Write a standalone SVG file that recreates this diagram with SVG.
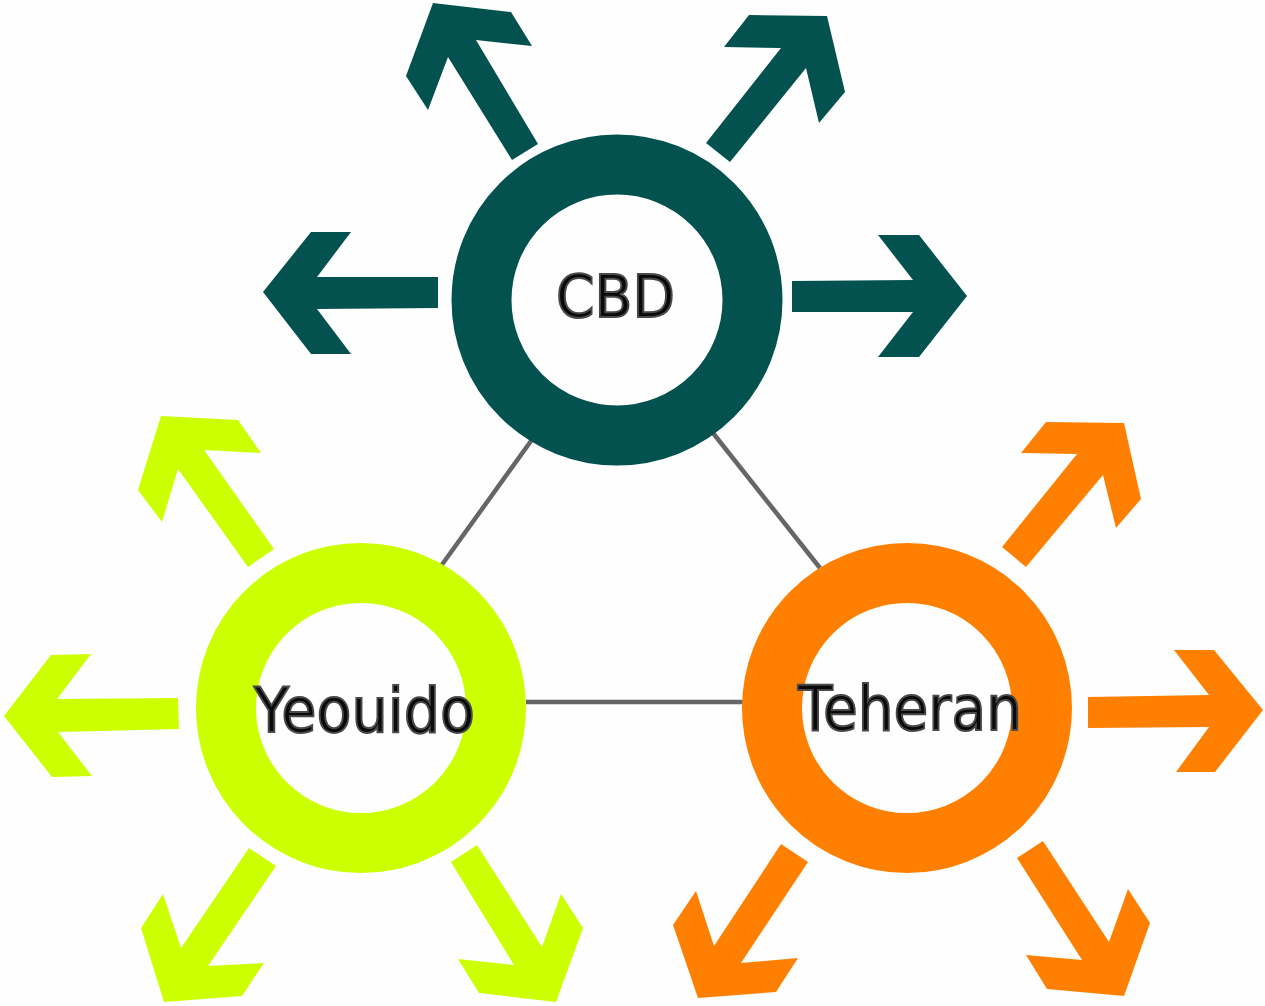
<svg xmlns="http://www.w3.org/2000/svg" width="1265" height="1006" viewBox="0 0 1265 1006">
<style>
.lbl{font-family:"DejaVu Sans","Verdana",sans-serif;fill:#0a0a0a;stroke:#4a4a4a;stroke-width:2}
.ring{fill:none;stroke-width:60}
.cbd{fill:#03524F}
.yeo{fill:#CCFF00}
.teh{fill:#FF8000}
.conn{stroke:#666;stroke-width:4.5;fill:none}
</style>
<rect width="1265" height="1006" fill="#fefefe"/>
<g id="connectors">
<line class="conn" x1="531" y1="441" x2="441" y2="566"/>
<line class="conn" x1="713" y1="433" x2="820" y2="568"/>
<line class="conn" x1="526" y1="702" x2="743" y2="702"/>
</g>
<g id="cbd">
<circle class="ring" cx="617" cy="300" r="135.5" stroke="#03524F"/>
<polygon class="cbd" points="433,3 511,12 532,46 476,40 538,144 512,160 448,57 428,110 406,76"/>
<polygon class="cbd" points="749,15 827,16 845,92 819,123 806,68 730,162 706,143 781,48 724,47"/>
<polygon class="cbd" points="263,292 311,232 351,232 317,277 438,277 438,308 317,309 351,354 311,354"/>
<polygon class="cbd" points="792,281 913,280 878,235 919,235 967,296 919,357 878,357 913,312 792,312"/>
<text class="lbl" x="556" y="317" font-size="58" textLength="119" lengthAdjust="spacingAndGlyphs">CBD</text>
</g>
<g id="yeouido">
<circle class="ring" cx="361" cy="708" r="135" stroke="#CCFF00"/>
<polygon class="yeo" points="161,416 238,420 261,453 204,450 274,549 248,567 178,469 162,522 138,490"/>
<polygon class="yeo" points="4,716 51,655 91,654 57,699 178,698 179,729 58,732 92,776 52,777"/>
<polygon class="yeo" points="249,848 276,866 208,966 264,963 242,996 164,1002 141,928 163,894 181,948"/>
<polygon class="yeo" points="451,862 477,845 542,947 561,894 583,928 556,1002 479,993 458,959 514,965"/>
<text class="lbl" x="254" y="732" font-size="62" textLength="221" lengthAdjust="spacingAndGlyphs">Yeouido</text>
</g>
<g id="teheran">
<circle class="ring" cx="907" cy="708" r="135" stroke="#FF8000"/>
<polygon class="teh" points="1046,422 1124,423 1141,499 1116,528 1103,475 1026,567 1002,547 1077,454 1021,453"/>
<polygon class="teh" points="1088,697 1209,695 1174,650 1214,650 1263,710 1215,772 1176,772 1209,727 1088,728"/>
<polygon class="teh" points="781,844 808,862 741,963 798,958 776,992 698,998 673,925 696,891 714,946"/>
<polygon class="teh" points="1017,858 1043,841 1109,942 1128,889 1150,923 1124,996 1047,989 1026,955 1082,960"/>
<text class="lbl" x="798" y="730" font-size="62" textLength="224" lengthAdjust="spacingAndGlyphs">Teheran</text>
</g>
</svg>
